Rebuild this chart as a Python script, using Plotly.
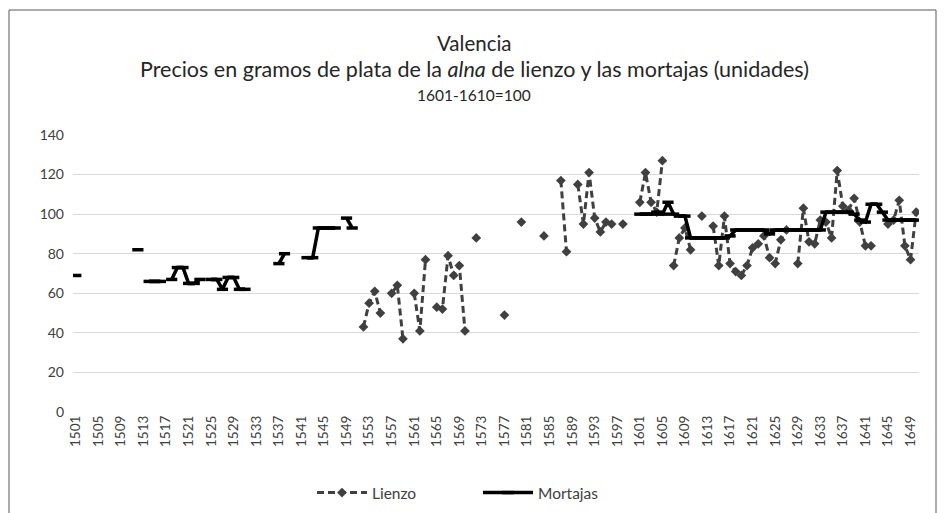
import plotly.graph_objects as go

years = list(range(1501, 1651))

# Lienzo (dashed with diamonds): observed years and values
lienzo_years = [1552, 1553, 1554, 1555, 1557, 1558, 1559, 1561, 1562, 1563,
                1565, 1566, 1567, 1568, 1569, 1570, 1572, 1577, 1580, 1584,
                1587, 1588, 1590, 1591, 1592, 1593, 1594, 1595, 1596, 1598,
                1601, 1602, 1603, 1604, 1605, 1607, 1608, 1609, 1610, 1612,
                1614, 1615, 1616, 1617, 1618, 1619, 1620, 1621, 1622, 1623,
                1624, 1625, 1626, 1627, 1629, 1630, 1631, 1632, 1633, 1634,
                1635, 1636, 1637, 1638, 1639, 1640, 1641, 1642, 1645, 1646,
                1647, 1648, 1649, 1650]
lienzo_values = [43, 55, 61, 50, 60, 64, 37, 60, 41, 77,
                 53, 52, 79, 69, 74, 41, 88, 49, 96, 89,
                 117, 81, 115, 95, 121, 98, 91, 96, 95, 95,
                 106, 121, 106, 101, 127, 74, 88, 93, 82, 99,
                 94, 74, 99, 75, 71, 69, 74, 83, 85, 89,
                 78, 75, 87, 92, 75, 103, 86, 85, 97, 96,
                 88, 122, 104, 102, 108, 96, 84, 84, 95, 97,
                 107, 84, 77, 101]

# Mortajas (solid black): observed years and values
mortajas_years = [1501, 1512, 1514, 1515, 1516, 1518, 1519, 1520, 1521, 1522, 1523,
                  1525, 1526, 1527, 1528, 1529, 1530, 1531, 1537, 1538,
                  1542, 1543, 1544, 1545, 1546, 1547, 1549, 1550,
                  1601, 1602, 1603, 1604, 1605, 1606, 1607, 1608, 1609, 1610,
                  1611, 1612, 1613, 1614, 1615, 1616, 1617, 1618, 1619, 1620,
                  1621, 1622, 1623, 1624, 1625, 1626, 1627, 1628, 1629, 1630,
                  1631, 1632, 1633, 1634, 1635, 1636, 1637, 1638, 1639, 1640,
                  1641, 1642, 1643, 1644, 1645, 1646, 1647, 1648, 1649, 1650]
mortajas_values = [69, 82, 66, 66, 66, 67, 73, 73, 65, 65, 67,
                   67, 67, 62, 68, 68, 62, 62, 75, 80,
                   78, 78, 93, 93, 93, 93, 98, 93,
                   100, 100, 100, 101, 100, 106, 100, 99, 99, 88,
                   88, 88, 88, 88, 88, 88, 89, 92, 92, 92,
                   92, 92, 92, 90, 92, 92, 92, 92, 92, 92,
                   92, 92, 92, 101, 101, 101, 101, 101, 100, 97,
                   96, 105, 105, 101, 97, 97, 97, 97, 97, 97]

tick_years = list(range(1501, 1651, 4))
y_ticks = [0, 20, 40, 60, 80, 100, 120, 140]


def full_series(obs_years, obs_values):
    lookup = dict(zip(obs_years, obs_values))
    return [lookup.get(y) for y in years]


lienzo = full_series(lienzo_years, lienzo_values)
mortajas = full_series(mortajas_years, mortajas_values)

FONT = "Lato, 'Open Sans', sans-serif"

fig = go.Figure()
fig.add_trace(go.Scatter(
    x=years, y=lienzo, name="Lienzo", mode="lines+markers",
    connectgaps=False, legend="legend",
    line=dict(color="#404040", width=3, dash="7px,4px"),
    marker=dict(symbol="diamond", size=7.5, color="#404040"),
))
fig.add_trace(go.Scatter(
    x=years, y=mortajas, name="Mortajas", mode="lines+markers",
    connectgaps=False, legend="legend2",
    line=dict(color="#000000", width=3.5),
    marker=dict(symbol="line-ew", size=8, color="#000000",
                line=dict(color="#000000", width=3.5)),
))

legend_common = dict(orientation="h", xref="container", yref="container",
                     xanchor="left", y=1 - 493 / 513, yanchor="middle",
                     font=dict(size=15.5, color="#404040"),
                     itemwidth=50, bgcolor="rgba(0,0,0,0)")

fig.update_layout(
    width=944, height=513,
    margin=dict(l=73, r=25, t=135, b=101, autoexpand=False),
    paper_bgcolor="white", plot_bgcolor="white",
    font=dict(family=FONT, color="#404040", size=14),
    showlegend=True,
    legend=dict(x=312 / 944, **legend_common),
    legend2=dict(x=478 / 944, **legend_common),
    xaxis=dict(range=[1500.5, 1650.5], tickmode="array",
               tickvals=tick_years, ticktext=[str(t) for t in tick_years],
               tickangle=-90, showgrid=False, zeroline=False,
               showline=False, ticks="", automargin=False,
               tickfont=dict(size=13.5, color="#404040")),
    yaxis=dict(range=[0, 140], tickvals=y_ticks, showgrid=True,
               gridcolor="#d9d9d9", gridwidth=1, zeroline=False,
               showline=False, ticks="", automargin=False,
               ticklabelstandoff=8,
               tickfont=dict(size=14, color="#404040")),
    annotations=[
        dict(text="Valencia", xref="paper", yref="paper",
             x=(474 - 73) / 846, y=(412 - 43) / 277, xanchor="center", yanchor="middle",
             showarrow=False, font=dict(size=20.5, color="#262626", family=FONT)),
        dict(text="Precios en gramos de plata de la <i>alna</i> de lienzo y las mortajas (unidades)",
             xref="paper", yref="paper",
             x=(474 - 73) / 846, y=(412 - 69) / 277, xanchor="center", yanchor="middle",
             showarrow=False, font=dict(size=21.5, color="#262626", family=FONT)),
        dict(text="1601-1610=100", xref="paper", yref="paper",
             x=(474 - 73) / 846, y=(412 - 95) / 277, xanchor="center", yanchor="middle",
             showarrow=False, font=dict(size=15.5, color="#262626", family=FONT)),
    ],
    shapes=[
        dict(type="rect", xref="paper", yref="paper",
             x0=(9 - 73) / 846, x1=(936 - 73) / 846,
             y0=(412 - 530) / 277, y1=(412 - 10) / 277,
             line=dict(color="#595959", width=1), fillcolor="rgba(0,0,0,0)",
             layer="below"),
    ],
)

fig.write_html("out.html",
               config={"displayModeBar": False},
               post_script="document.body.style.margin='0';document.body.style.overflow='hidden';")
